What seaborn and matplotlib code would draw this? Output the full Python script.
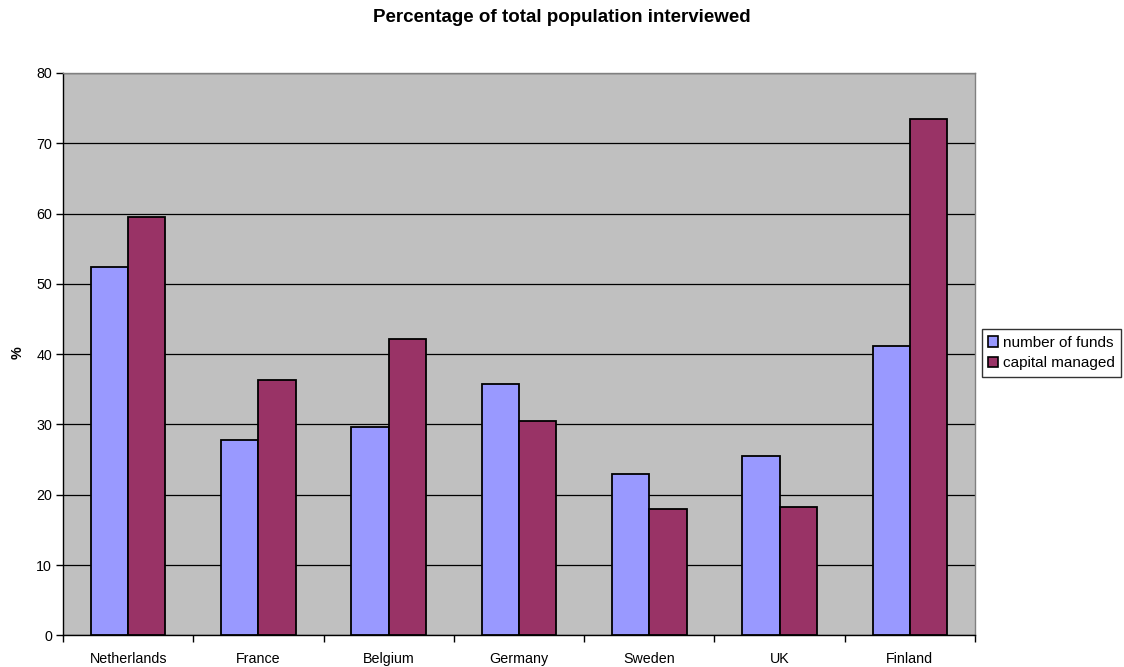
import matplotlib
matplotlib.use("Agg")
import matplotlib.pyplot as plt
import seaborn as sns
import pandas as pd
from matplotlib.ticker import FixedLocator, NullFormatter

countries = ["Netherlands", "France", "Belgium", "Germany", "Sweden", "UK", "Finland"]
number_of_funds = [52.4, 27.8, 29.6, 35.7, 22.9, 25.5, 41.1]
capital_managed = [59.5, 36.3, 42.1, 30.5, 17.9, 18.2, 73.5]
series_names = ["number of funds", "capital managed"]
colors = ["#9999FF", "#993366"]

df = pd.DataFrame({
    "country": countries * 2,
    "value": number_of_funds + capital_managed,
    "series": [series_names[0]] * len(countries) + [series_names[1]] * len(countries),
})

sns.set_style("white")
plt.rcParams["font.family"] = ["Liberation Sans", "DejaVu Sans"]
plt.rcParams["text.color"] = "black"
plt.rcParams["axes.labelcolor"] = "black"
plt.rcParams["xtick.color"] = "black"
plt.rcParams["ytick.color"] = "black"

fig = plt.figure(figsize=(11.24, 6.67), dpi=100)
ax = fig.add_axes([63 / 1124, 1 - 635.3 / 667, (975 - 63) / 1124, (635.3 - 73) / 667])
ax.set_facecolor("#C0C0C0")

sns.barplot(data=df, x="country", y="value", hue="series", palette=colors,
            saturation=1, width=0.573, edgecolor="black", linewidth=1.3,
            ax=ax, legend=True, zorder=3)

ax.set_xlim(-0.5, len(countries) - 0.5)
ax.set_ylim(0, 80)
ax.set_yticks(range(0, 81, 10))
ax.yaxis.grid(True, color="black", linewidth=0.9, zorder=0)
ax.set_axisbelow(True)

ax.tick_params(axis="y", direction="out", length=5, width=1, color="black",
               labelcolor="black", labelsize=10.3, pad=3, left=True)
ax.tick_params(axis="x", which="major", length=0, labelsize=10.3, pad=12,
               labelcolor="black")
ax.xaxis.set_minor_locator(FixedLocator([i - 0.5 for i in range(len(countries) + 1)]))
ax.xaxis.set_minor_formatter(NullFormatter())
ax.tick_params(axis="x", which="minor", direction="out", length=5, width=1,
               color="black", bottom=True)

for side in ["top", "right"]:
    ax.spines[side].set_color("#808080")
    ax.spines[side].set_linewidth(1)
for side in ["left", "bottom"]:
    ax.spines[side].set_color("black")
    ax.spines[side].set_linewidth(1)

ax.set_xlabel("")
ax.set_ylabel("%", fontsize=10.3, fontweight="bold", va="center")
ax.yaxis.set_label_coords((18 - 63) / 912, 1 - (353 - 73) / 562.3)

fig.text(0.5, 1 - 17 / 667, "Percentage of total population interviewed",
         fontsize=13.5, fontweight="bold", ha="center", va="center")

handles, labels = ax.get_legend_handles_labels()
ax.legend_.remove()
leg = fig.legend(handles, labels, loc="center left",
                 bbox_to_anchor=(981.5 / 1124, 1 - 353 / 667),
                 frameon=True, fancybox=False, fontsize=11,
                 handlelength=0.7, handleheight=0.7, handletextpad=0.3,
                 borderpad=0.4, labelspacing=0.45, borderaxespad=0)
leg.get_frame().set_edgecolor("black")
leg.get_frame().set_linewidth(1)
for h in leg.legend_handles:
    h.set_edgecolor("black")
    h.set_linewidth(1.2)

fig.savefig("out.png", dpi=100)
